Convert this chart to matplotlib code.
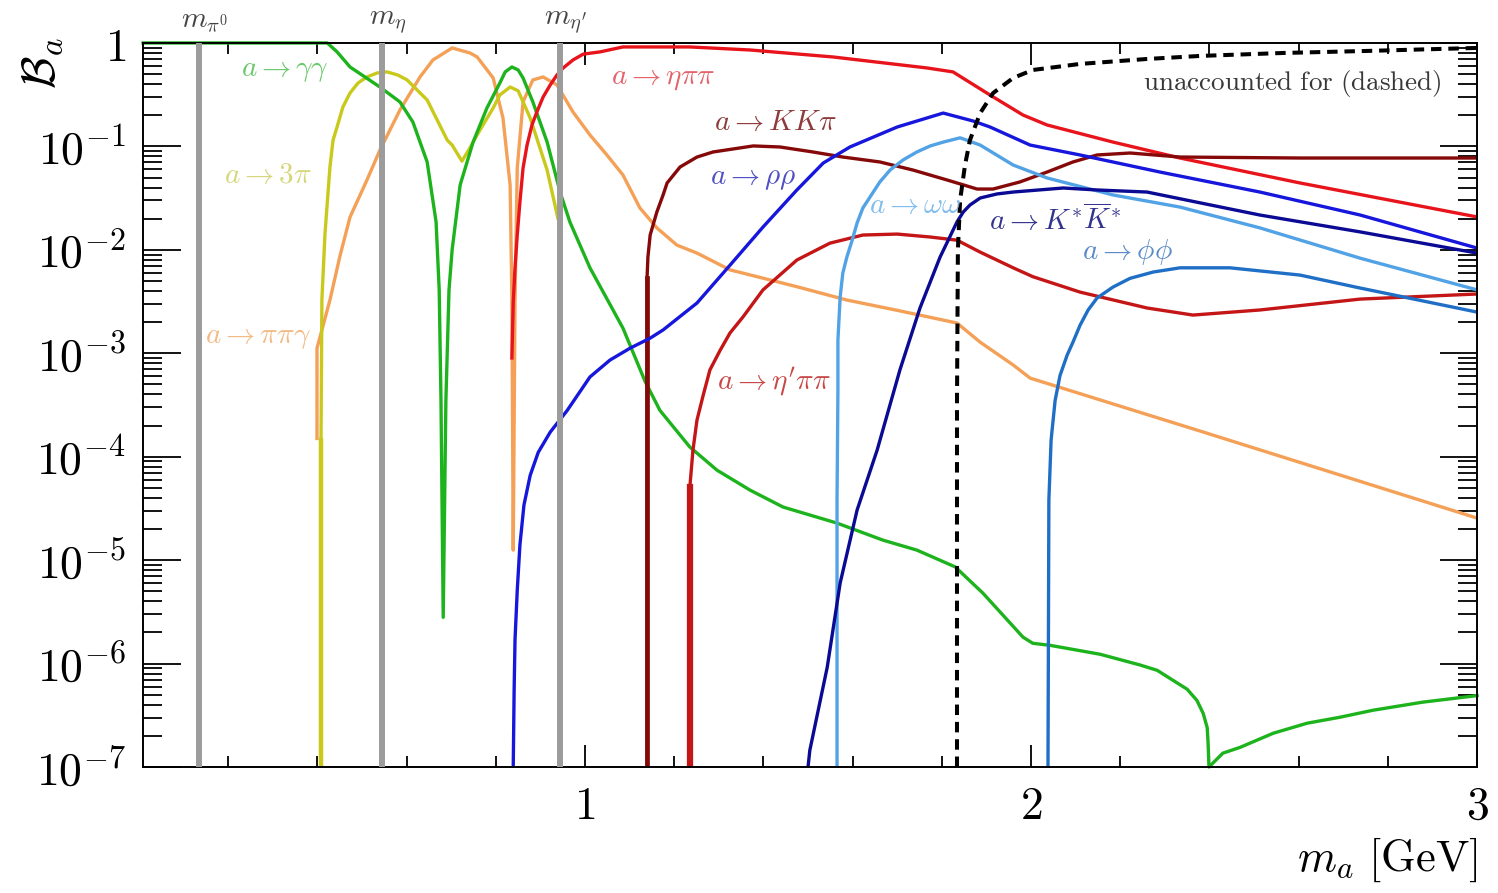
import matplotlib
matplotlib.use('Agg')
import matplotlib.pyplot as plt
from matplotlib.ticker import FixedLocator, FixedFormatter, LogLocator, MultipleLocator, NullFormatter

plt.rcParams['mathtext.fontset'] = 'cm'
plt.rcParams['font.family'] = 'serif'
plt.rcParams['font.serif'] = ['DejaVu Serif']

# branching ratios vs. ALP mass m_a [GeV]
m_gg = [0.009, 0.422, 0.444, 0.473, 0.540, 0.585, 0.614, 0.646, 0.666, 0.673, 0.677, 0.682, 0.688, 0.695, 0.702,
        0.720, 0.749, 0.780, 0.809, 0.821, 0.836, 0.850, 0.861, 0.883, 0.915, 0.944, 0.966, 1.011, 1.085, 1.135,
        1.168, 1.235, 1.296, 1.370, 1.444, 1.565, 1.668, 1.744, 1.830, 1.892, 1.982, 2.004, 2.043, 2.155, 2.244,
        2.283, 2.318, 2.350, 2.372, 2.386, 2.395, 2.397, 2.399, 2.430, 2.469, 2.543, 2.619, 2.693, 2.767, 2.879,
        3.0]
B_gg = [1.0, 1.0, 0.82, 0.586, 0.375, 0.269, 0.172, 0.0707, 0.0186, 4.1e-3, 3.5e-4, 2.8e-6, 3.5e-4, 4.1e-3, 1.0e-2,
        0.0424, 0.110, 0.235, 0.41, 0.525, 0.586, 0.548, 0.459, 0.269, 0.110, 0.0362, 0.0186, 6.7e-3, 1.75e-3,
        5.3e-4, 2.8e-4, 1.24e-4, 7.4e-5, 4.75e-5, 3.26e-5, 2.28e-5, 1.56e-5, 1.25e-5, 8.6e-6, 4.8e-6, 1.8e-6,
        1.57e-6, 1.5e-6, 1.23e-6, 9.7e-7, 8.6e-7, 6.9e-7, 5.65e-7, 4.4e-7, 3.3e-7, 2.4e-7, 1.7e-7, 1.0e-7,
        1.36e-7, 1.55e-7, 2.12e-7, 2.65e-7, 3.03e-7, 3.54e-7, 4.24e-7, 4.9e-7]

m_3pi = [0.408, 0.408, 0.410, 0.417, 0.428, 0.435, 0.444, 0.457, 0.473, 0.491, 0.511, 0.534, 0.556, 0.580,
         0.601, 0.646, 0.691, 0.702, 0.724, 0.742, 0.758, 0.794, 0.809, 0.832, 0.850, 0.877, 0.915, 0.939]
B_3pi = [1e-7, 1.45e-4, 3.3e-3, 0.0145, 0.063, 0.115, 0.154, 0.24, 0.328, 0.41, 0.469, 0.513, 0.525, 0.49,
         0.439, 0.281, 0.115, 0.103, 0.072, 0.097, 0.129, 0.235, 0.314, 0.375, 0.345, 0.188, 0.059, 0.0203]

m_ppg = [0.399, 0.399, 0.410, 0.428, 0.451, 0.473, 0.511, 0.540, 0.585, 0.630, 0.659, 0.702, 0.742, 0.758,
         0.794, 0.816, 0.832, 0.836, 0.839, 0.843, 0.848, 0.861, 0.883, 0.906, 0.937, 0.973, 1.011, 1.049,
         1.085, 1.123, 1.161, 1.206, 1.251, 1.325, 1.475, 1.587, 1.700, 1.834, 1.886, 1.960, 1.998, 2.379, 3.0]
B_ppg = [1.5e-4, 1.12e-3, 1.68e-3, 3.27e-3, 8.9e-3, 0.0207, 0.0473, 0.092, 0.225, 0.469, 0.685, 0.895, 0.80,
         0.732, 0.459, 0.188, 0.0423, 3.3e-3, 1.25e-5, 3.3e-3, 0.0618, 0.269, 0.439, 0.469, 0.393, 0.215, 0.129,
         0.0826, 0.0529, 0.0254, 0.0163, 0.0111, 9.3e-3, 6.4e-3, 4.4e-3, 3.27e-3, 2.6e-3, 1.96e-3, 1.28e-3,
         7.7e-4, 5.75e-4, 1.77e-4, 2.55e-5]

m_epp = [0.836, 0.839, 0.843, 0.848, 0.854, 0.861, 0.870, 0.881, 0.892, 0.906, 0.922, 0.937, 0.951, 0.973,
         0.996, 1.034, 1.085, 1.235, 1.370, 1.556, 1.767, 1.825, 1.908, 1.982, 2.036, 2.184, 2.334, 2.603, 3.0]
B_epp = [9.0e-4, 3.13e-3, 6.7e-3, 0.0139, 0.029, 0.0618, 0.103, 0.161, 0.215, 0.30, 0.393, 0.49, 0.573, 0.685,
         0.78, 0.82, 0.915, 0.915, 0.855, 0.732, 0.573, 0.525, 0.314, 0.201, 0.161, 0.110, 0.0772, 0.0443, 0.0208]

m_kkp = [1.139, 1.139, 1.141, 1.146, 1.161, 1.175, 1.184, 1.213, 1.251, 1.287, 1.377, 1.437, 1.511, 1.578,
         1.661, 1.735, 1.812, 1.879, 1.915, 1.975, 2.036, 2.094, 2.148, 2.222, 2.334, 2.603, 3.0]
B_kkp = [1e-7, 5.3e-3, 8.5e-3, 0.0139, 0.0232, 0.0339, 0.0443, 0.0632, 0.0789, 0.0883, 0.101, 0.0987, 0.0883,
         0.0789, 0.0707, 0.0591, 0.0473, 0.0387, 0.0387, 0.0453, 0.0565, 0.0707, 0.0826, 0.0863, 0.0789, 0.0772,
         0.0772]

m_etap = [1.235, 1.235, 1.242, 1.251, 1.265, 1.280, 1.303, 1.325, 1.354, 1.399, 1.475, 1.549, 1.623, 1.700,
          1.774, 1.834, 1.886, 1.960, 2.004, 2.110, 2.260, 2.363, 2.513, 2.738, 3.0]
B_etap = [1e-7, 5.1e-5, 1.16e-4, 2.26e-4, 3.94e-4, 6.9e-4, 1.07e-3, 1.57e-3, 2.24e-3, 4.1e-3, 7.97e-3, 0.0116,
          0.0139, 0.0142, 0.0133, 0.0124, 9.5e-3, 6.7e-3, 5.5e-3, 3.9e-3, 2.74e-3, 2.34e-3, 2.62e-3, 3.34e-3, 3.74e-3]

m_rr = [0.839, 0.841, 0.843, 0.848, 0.854, 0.863, 0.877, 0.895, 0.922, 0.960, 1.011, 1.056, 1.101, 1.146,
        1.175, 1.251, 1.325, 1.399, 1.475, 1.534, 1.594, 1.700, 1.803, 1.870, 1.908, 1.998, 2.110, 2.289,
        2.513, 2.738, 3.0]
B_rr = [1e-7, 5.5e-7, 1.7e-6, 5.1e-6, 1.4e-5, 3.4e-5, 6.6e-5, 1.1e-4, 1.73e-4, 2.8e-4, 5.9e-4, 8.6e-4, 1.12e-3,
        1.4e-3, 1.68e-3, 3.06e-3, 7.1e-3, 0.0166, 0.0379, 0.069, 0.0987, 0.154, 0.210, 0.176, 0.154, 0.103,
        0.0826, 0.0565, 0.0362, 0.0217, 0.0104]

m_ww = [1.565, 1.565, 1.567, 1.567, 1.572, 1.578, 1.587, 1.599, 1.610, 1.623, 1.639, 1.661, 1.684, 1.713,
        1.744, 1.774, 1.803, 1.841, 1.886, 1.960, 2.036, 2.184, 2.334, 2.513, 2.738, 3.0]
B_ww = [1e-7, 3.8e-5, 4.4e-4, 1.34e-3, 3.5e-3, 5.97e-3, 8.5e-3, 0.0124, 0.0182, 0.0254, 0.0324, 0.0453, 0.0591,
        0.0739, 0.0883, 0.101, 0.110, 0.121, 0.103, 0.066, 0.0495, 0.0339, 0.0259, 0.0163, 8.3e-3, 4.1e-3]

m_kstar = [1.500, 1.504, 1.543, 1.572, 1.610, 1.655, 1.706, 1.751, 1.796, 1.834, 1.848, 1.863, 1.886, 1.924,
           1.960, 2.072, 2.148, 2.260, 2.513, 2.738, 3.0]
B_kstar = [1e-7, 1.45e-7, 9.2e-7, 6.0e-6, 3.05e-5, 1.16e-4, 6.9e-4, 2.74e-3, 8.5e-3, 0.0186, 0.0232, 0.0271,
           0.0317, 0.0347, 0.0362, 0.0396, 0.0379, 0.0362, 0.0217, 0.0149, 9.3e-3]

m_ff = [2.038, 2.040, 2.045, 2.054, 2.065, 2.081, 2.094, 2.110, 2.128, 2.148, 2.184, 2.222, 2.274, 2.334,
        2.446, 2.603, 2.738, 3.0]
B_ff = [1e-7, 3.8e-5, 1.45e-4, 3.5e-4, 6.1e-4, 9.6e-4, 1.28e-3, 1.87e-3, 2.62e-3, 3.42e-3, 4.37e-3, 5.3e-3,
        6.1e-3, 6.7e-3, 6.7e-3, 5.7e-3, 4.27e-3, 2.5e-3]

m_rest = [1.834, 1.834, 1.836, 1.841, 1.852, 1.863, 1.886, 1.915, 1.960, 2.004, 2.110, 2.260, 2.379, 2.565,
          2.753, 3.0]
B_rest = [1e-7, 3.5e-4, 0.01, 0.0303, 0.066, 0.115, 0.210, 0.328, 0.459, 0.548, 0.627, 0.70, 0.749, 0.80,
          0.837, 0.895]

meson_masses = [0.135, 0.545, 0.944]
meson_labels = [r'$m_{\pi^0}$', r'$m_\eta$', r"$m_{\eta'}$"]

# channel labels: text, position (m_a, B), colour
channel_labels = [
    (r'$a \rightarrow \gamma\gamma$', 0.327, 0.55, '#6cc86c'),
    (r'$a \rightarrow 3\pi$', 0.289, 0.053, '#d6d67a'),
    (r'$a \rightarrow \pi\pi\gamma$', 0.267, 1.45e-3, '#f2ba84'),
    (r'$a \rightarrow \eta\pi\pi$', 1.175, 0.46, '#e2646a'),
    (r'$a \rightarrow KK\pi$', 1.428, 0.172, '#8e3a3a'),
    (r'$a \rightarrow \rho\rho$', 1.377, 0.049, '#5050c4'),
    (r'$a \rightarrow \omega\omega$', 1.740, 0.027, '#80bcec'),
    (r'$a \rightarrow K^{*}\overline{K}^{*}$', 2.054, 0.0194, '#34348e'),
    (r'$a \rightarrow \phi\phi$', 2.217, 9.5e-3, '#5a8cc8'),
    (r"$a \rightarrow \eta'\pi\pi$", 1.424, 5.3e-4, '#c84848'),
]

fig = plt.figure(figsize=(14.98, 8.93), dpi=100)
ax = fig.add_axes([0.0955, 0.1411, 0.8905, 0.8108])

lw = 2.4
ax.plot(m_ppg, B_ppg, color='#f4a057', lw=lw, solid_joinstyle='round')
ax.plot(m_3pi, B_3pi, color='#c9c91c', lw=lw, solid_joinstyle='round')
ax.plot(m_3pi[:2], B_3pi[:2], color='#c9c91c', lw=3.2)
ax.plot(m_gg, B_gg, color='#1db31d', lw=lw, solid_joinstyle='round', clip_on=False)
ax.plot(m_epp, B_epp, color='#e8141c', lw=lw, solid_joinstyle='round')
ax.plot(m_kkp, B_kkp, color='#860909', lw=lw, solid_joinstyle='round')
ax.plot(m_kkp[:2], B_kkp[:2], color='#860909', lw=3.4)
ax.plot(m_etap, B_etap, color='#c41616', lw=lw, solid_joinstyle='round')
ax.plot(m_etap[:2], B_etap[:2], color='#c41616', lw=4.5)
ax.plot(m_rr, B_rr, color='#1616dc', lw=lw, solid_joinstyle='round')
ax.plot(m_ww, B_ww, color='#52a2e6', lw=lw, solid_joinstyle='round')
ax.plot(m_kstar, B_kstar, color='#0a0a94', lw=lw, solid_joinstyle='round')
ax.plot(m_ff, B_ff, color='#1f6fc6', lw=lw, solid_joinstyle='round')
ax.plot(m_rest, B_rest, color='black', lw=2.9, dashes=(2.6, 1.7))

for m in meson_masses:
    ax.axvline(m, color='#9c9c9c', lw=4.3, zorder=5)
for m, lab in zip(meson_masses, meson_labels):
    ax.text(m + 0.012, 1.01, lab, transform=ax.get_xaxis_transform(), ha='center', va='bottom',
            fontsize=21, color='#444444')

for text, x, y, c in channel_labels:
    ax.text(x, y, text, color=c, fontsize=21, ha='center', va='center')
ax.text(2.92, 0.41, r'$\mathrm{unaccounted\ for\ (dashed)}$', color='#383838', fontsize=19.5,
        ha='right', va='center')

ax.set_yscale('log')
ax.set_xlim(0.009, 3.0)
ax.set_ylim(1e-7, 1.0)

ax.xaxis.set_major_locator(FixedLocator([1, 2, 3]))
ax.xaxis.set_major_formatter(FixedFormatter([r'$1$', r'$2$', r'$3$']))
ax.xaxis.set_minor_locator(MultipleLocator(0.2))
ax.yaxis.set_major_locator(FixedLocator([1e-7, 1e-6, 1e-5, 1e-4, 1e-3, 1e-2, 1e-1, 1]))
ax.yaxis.set_major_formatter(FixedFormatter([r'$10^{-7}$', r'$10^{-6}$', r'$10^{-5}$', r'$10^{-4}$',
                                             r'$10^{-3}$', r'$10^{-2}$', r'$10^{-1}$', r'$1$']))
ax.yaxis.set_minor_locator(LogLocator(base=10, subs=range(2, 10), numticks=20))
ax.yaxis.set_minor_formatter(NullFormatter())

ax.tick_params(which='both', direction='in', top=True, right=True, width=1.3, labelsize=33)
ax.tick_params(axis='y', which='major', length=27, pad=12)
ax.tick_params(axis='y', which='minor', length=14)
ax.tick_params(axis='x', which='major', length=16, pad=12)
ax.tick_params(axis='x', which='minor', length=8)
for s in ax.spines.values():
    s.set_linewidth(1.4)

fig.text(0.028, 0.958, r'$\mathcal{B}_a$', rotation=90, fontsize=34, ha='center', va='top')
ax.text(1.0, -0.095, r'$m_a\ [\mathrm{GeV}]$', transform=ax.transAxes, ha='right', va='top', fontsize=32)

fig.savefig('out.png', dpi=100)
